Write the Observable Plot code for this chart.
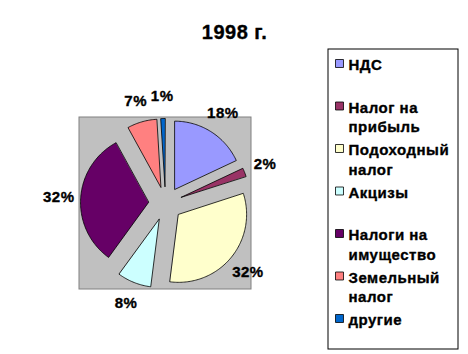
<!DOCTYPE html>
<html><head><meta charset="utf-8">
<script src="https://cdn.jsdelivr.net/npm/d3@7"></script>
<script src="https://cdn.jsdelivr.net/npm/@observablehq/plot@0.6"></script>
<style>body{margin:0;background:#fff;} svg text{letter-spacing:0.5px;}</style>
</head><body><div id="chart"></div>
<script>
const title = "1998 г.";
const categories = ["НДС","Налог на прибыль","Подоходный налог","Акцизы","Налоги на имущество","Земельный налог","другие"];
const legendLabels = ["НДС","Налог на\nприбыль","Подоходный\nналог","Акцизы","Налоги на\nимущество","Земельный\nналог","другие"];
const values = [18,2,32,8,32,7,1];
const colors = ["#9999FF","#993366","#FFFFCC","#CCFFFF","#660066","#FF8080","#0066CC"];

const W = 468, H = 354;
const cx = 165, cy = 203, R = 68, explode = 17, labelR = 107;
const font = "Liberation Sans, Arial, sans-serif";

const arcs = d3.pie().sort(null).startAngle(0)(values);
const pt = (x0, y0, r, a) => ({x: x0 + r * Math.sin(a), y: y0 - r * Math.cos(a)});

const polys = [];
const labelsPos = [];
arcs.forEach((a, i) => {
  const mid = (a.startAngle + a.endAngle) / 2;
  const o = pt(cx, cy, explode, mid);
  polys.push({cat: categories[i], ...o});
  const n = Math.max(2, Math.ceil((a.endAngle - a.startAngle) / 0.02));
  for (let k = 0; k <= n; k++) {
    const t = a.startAngle + (a.endAngle - a.startAngle) * k / n;
    polys.push({cat: categories[i], ...pt(o.x, o.y, R, t)});
  }
  labelsPos.push({text: values[i] + "%", ...pt(cx, cy, labelR, mid)});
});

const legend = categories.map((c, i) => ({cat: c, label: legendLabels[i], y: 63 + 42.5 * i}));
const box = R + explode + 1;
const heavy = {fill: "black", stroke: "black", strokeWidth: 0.35};

const chart = Plot.plot({
  width: W, height: H, margin: 0,
  x: {domain: [0, W], range: [0, W], axis: null},
  y: {domain: [0, H], range: [0, H], axis: null},
  color: {domain: categories, range: colors},
  style: {fontFamily: font, background: "#fff"},
  marks: [
    Plot.rect([0], {x1: cx - box, x2: cx + box, y1: cy - box, y2: cy + box, fill: "#C0C0C0", stroke: "#808080", strokeWidth: 1}),
    Plot.line(polys, {x: "x", y: "y", z: "cat", fill: "cat", stroke: "black", strokeWidth: 0.8, curve: "linear-closed"}),
    Plot.text(labelsPos, {x: "x", y: "y", text: "text", fontSize: 15, fontWeight: "bold", ...heavy}),
    Plot.text([title], {x: 234, y: 32, text: d => d, fontSize: 20, fontWeight: "bold", ...heavy}),
    Plot.rect([0], {x1: 328, x2: 458, y1: 49, y2: 349, fill: "white", stroke: "black", strokeWidth: 1}),
    Plot.dot(legend, {x: 339, y: "y", symbol: "square", r: 4.5, fill: "cat", stroke: "black", strokeWidth: 0.8}),
    Plot.text(legend, {x: 348, y: d => d.y - 7, text: "label", textAnchor: "start", lineAnchor: "top", lineHeight: 1.3, fontSize: 15, fontWeight: "bold", ...heavy})
  ]
});
document.getElementById("chart").appendChild(chart);
</script>
</body></html>
